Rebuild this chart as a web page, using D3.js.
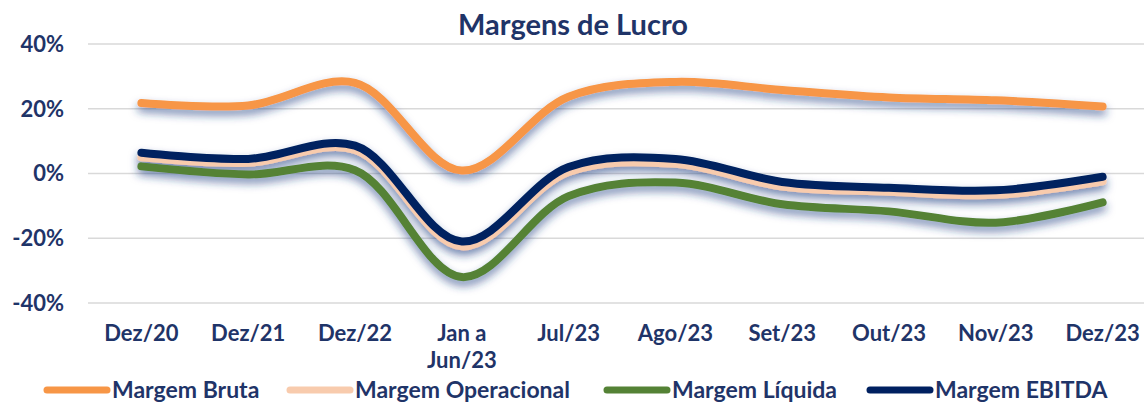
<!DOCTYPE html>
<html lang="pt">
<head>
<meta charset="utf-8">
<title>Margens de Lucro</title>
<script src="https://d3js.org/d3.v7.min.js"></script>
<style>
body {
  margin: 0;
  background: #fff;
  font-family: Lato, "Open Sans", sans-serif;
}
.grid line { stroke: #d9d9d9; stroke-width: 1.5; }
.tick-label { fill: #1f3468; font-weight: 700; font-size: 22px; }
.title { fill: #1f3468; font-weight: 700; font-size: 29px; }
.legend-text { fill: #1f3468; font-weight: 700; font-size: 23px; }
</style>
</head>
<body>
<svg width="1144" height="404"></svg>
<script>

var categories = ["Dez/20", "Dez/21", "Dez/22", "Jan a Jun/23", "Jul/23", "Ago/23", "Set/23", "Out/23", "Nov/23", "Dez/23"];

var margemBruta       = [21.8, 21.0, 28.0, 0.9, 23.7, 28.3, 25.8, 23.5, 22.6, 20.7];
var margemOperacional = [5.0, 3.3, 7.3, -22.5, 0.5, 3.0, -4.0, -5.6, -6.6, -2.4];
var margemLiquida     = [2.2, -0.3, 1.0, -32.0, -7.0, -2.8, -9.5, -11.7, -15.2, -8.9];
var margemEbitda      = [6.4, 4.5, 8.6, -21.0, 2.0, 4.5, -2.6, -4.4, -5.2, -1.0];

var yTicks = [-40, -20, 0, 20, 40];

var series = [
  {name: "Margem Bruta", values: margemBruta, color: "#f79646"},
  {name: "Margem Operacional", values: margemOperacional, color: "#f8cbad"},
  {name: "Margem Líquida", values: margemLiquida, color: "#548235"},
  {name: "Margem EBITDA", values: margemEbitda, color: "#002060"}
];

var svg = d3.select("svg");

// soft navy shadow under the lines (Excel style)
var defs = svg.append("defs");
var f = defs.append("filter")
    .attr("id", "shadow")
    .attr("x", "-10%").attr("y", "-50%")
    .attr("width", "120%").attr("height", "200%");
f.append("feDropShadow")
    .attr("dx", 0).attr("dy", 5)
    .attr("stdDeviation", 4.5)
    .attr("flood-color", "#1f3c80")
    .attr("flood-opacity", 0.6);

var x = d3.scaleBand()
    .domain(categories)
    .range([88, 1156]);

var y = d3.scaleLinear()
    .domain([-40, 40])
    .range([303, 44]);

// title
svg.append("text")
    .attr("class", "title")
    .attr("x", 573)
    .attr("y", 35)
    .attr("text-anchor", "middle")
    .text("Margens de Lucro");

// gridlines
svg.append("g")
    .attr("class", "grid")
  .selectAll("line")
  .data(yTicks)
  .enter().append("line")
    .attr("x1", 88)
    .attr("x2", 1156)
    .attr("y1", function(d) { return y(d); })
    .attr("y2", function(d) { return y(d); });

// y labels
svg.append("g")
  .selectAll("text")
  .data(yTicks)
  .enter().append("text")
    .attr("class", "tick-label")
    .attr("x", 64)
    .attr("y", function(d) { return y(d); })
    .attr("dy", "0.36em")
    .attr("text-anchor", "end")
    .text(function(d) { return d + "%"; });

// x labels (wrap "Jan a Jun/23")
var xl = svg.append("g")
  .selectAll("text")
  .data(categories)
  .enter().append("text")
    .attr("class", "tick-label")
    .attr("text-anchor", "middle")
    .attr("x", function(d) { return x(d) + x.bandwidth() / 2; })
    .attr("y", 341);

xl.each(function(d) {
  var parts = d == "Jan a Jun/23" ? ["Jan a", "Jun/23"] : [d];
  var t = d3.select(this);
  parts.forEach(function(p, i) {
    t.append("tspan")
      .attr("x", x(d) + x.bandwidth() / 2)
      .attr("dy", i == 0 ? 0 : 27)
      .text(p);
  });
});

var line = d3.line()
    .x(function(d, i) { return x(categories[i]) + x.bandwidth() / 2; })
    .y(function(d) { return y(d); })
    .curve(d3.curveCatmullRom.alpha(0.5));

svg.append("g")
    .attr("filter", "url(#shadow)")
  .selectAll("path")
  .data(series)
  .enter().append("path")
    .attr("d", function(d) { return line(d.values); })
    .attr("fill", "none")
    .attr("stroke", function(d) { return d.color; })
    .attr("stroke-width", 8)
    .attr("stroke-linecap", "round")
    .attr("stroke-linejoin", "round");

// legend
var legendX = [47, 290, 607, 870];
var leg = svg.append("g")
  .selectAll("g")
  .data(series)
  .enter().append("g")
    .attr("transform", function(d, i) { return "translate(" + legendX[i] + ",390)"; });

leg.append("line")
    .attr("x1", 0).attr("x2", 60)
    .attr("stroke", function(d) { return d.color; })
    .attr("stroke-width", 7)
    .attr("stroke-linecap", "round");

leg.append("text")
    .attr("class", "legend-text")
    .attr("x", 65)
    .attr("dy", "0.36em")
    .text(function(d) { return d.name; });

</script>
</body>
</html>
